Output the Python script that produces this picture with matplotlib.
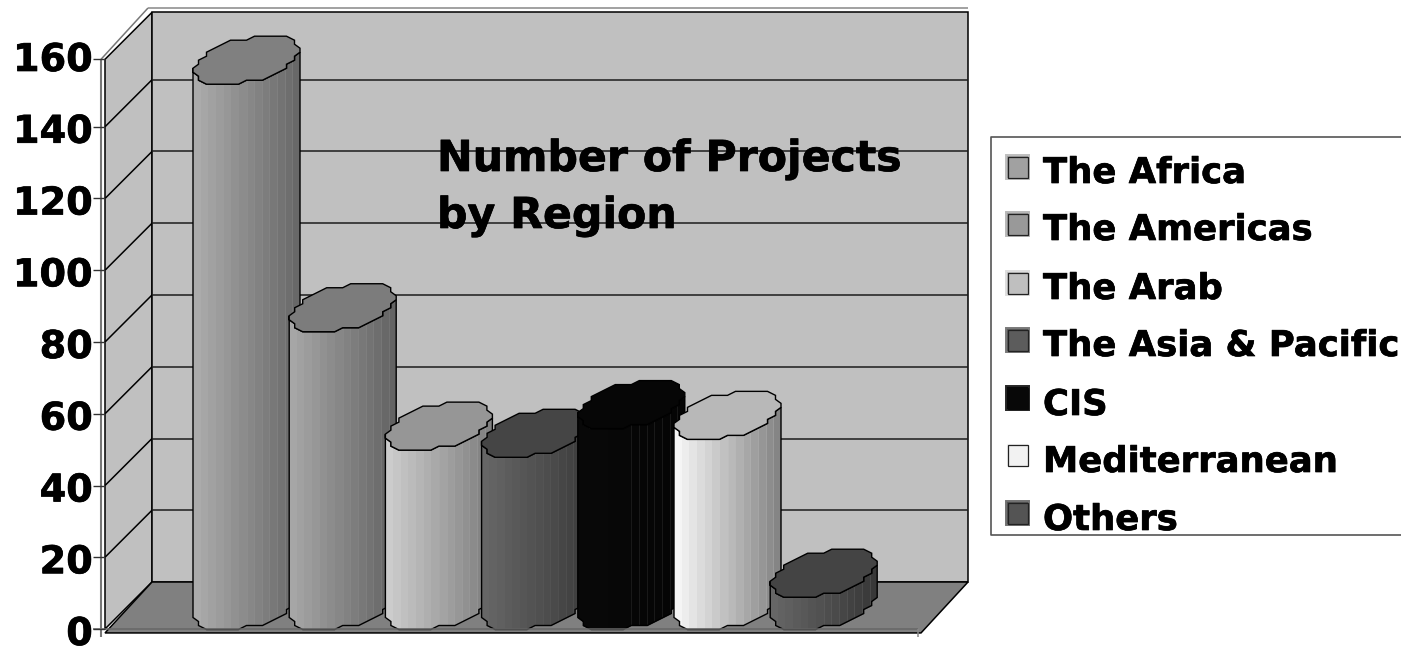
import numpy as np
import matplotlib
matplotlib.use('Agg')
import matplotlib.pyplot as plt
import matplotlib.patheffects as pe
from matplotlib.patches import Polygon, Rectangle

# values
regions = ['The Africa', 'The Americas', 'The Arab', 'The Asia & Pacific',
           'CIS', 'Mediterranean', 'Others']
projects = [152, 83, 50, 48, 56, 53, 9]
y_ticks = [0, 20, 40, 60, 80, 100, 120, 140, 160]
title_lines = ['Number of Projects', 'by Region']

# grey levels of each cylinder: lid, left side, right side, seam lines
lid_grey = [0.50, 0.485, 0.59, 0.27, 0.025, 0.72, 0.265]
left_grey = [0.67, 0.65, 0.80, 0.40, 0.035, 0.96, 0.40]
right_grey = [0.41, 0.39, 0.50, 0.24, 0.02, 0.52, 0.22]
seam_grey = [0.62, 0.60, 0.70, 0.40, 0.28, 0.80, 0.45]
swatch_grey = [0.63, 0.60, 0.75, 0.36, 0.03, 0.95, 0.33]

W, H = 1401, 648
fig = plt.figure(figsize=(W / 100, H / 100), dpi=100)
plt.rcParams['font.family'] = 'DejaVu Sans'
heavy = [pe.withStroke(linewidth=0.5, foreground='black')]

# one slot is 96.2 px wide, one project is 3.5875 px high
XU, YU = 96.2, 3.5875
X0, Y0 = 223, 629
ax = fig.add_axes([0, 0, 1, 1])
ax.set_xlim(-X0 / XU, (W - X0) / XU)
ax.set_ylim((Y0 - H) / YU, Y0 / YU)
ax.axis('off')

# front to back of the box moves the same 47 px right and up
DX, DY = 47 / XU, 47 / YU
LEFT, RIGHT = (105 - X0) / XU, (921 - X0) / XU
TOP = 158.8


def depth(x, v, d):
    return x + d * DX, v + d * DY


def line(p, q, color='black', lw=1.1, z=3):
    ax.plot([p[0], q[0]], [p[1], q[1]], color=color, lw=lw, zorder=z,
            solid_capstyle='butt')


# walls and floor
ax.add_patch(Polygon([depth(LEFT, 0, 0), depth(LEFT, 0, 1), depth(LEFT, TOP, 1), depth(LEFT, TOP, 0)],
                     fc='#c0c0c0', ec='black', lw=1.1, zorder=1))
ax.add_patch(Polygon([depth(LEFT, 0, 1), depth(RIGHT, 0, 1), depth(RIGHT, TOP, 1), depth(LEFT, TOP, 1)],
                     fc='#c0c0c0', ec='black', lw=1.1, zorder=1))
ax.add_patch(Polygon([(LEFT, -1.1), (RIGHT, -1.1), depth(RIGHT, 0, 1), depth(LEFT, 0, 1)],
                     fc='#808080', ec='black', lw=1.1, zorder=2))

for v in y_ticks[1:-1]:
    line(depth(LEFT, v, 0), depth(LEFT, v, 1))
    line(depth(LEFT, v, 1), depth(RIGHT, v, 1), color='#1c1c1c')

# outer line at the top and the value axis
line(depth(LEFT - 4 / XU, TOP, 0), depth(LEFT - 4 / XU, 160, 1), color='#777777')
line(depth(LEFT - 4 / XU, 160, 1), depth(RIGHT, 160, 1), color='#888888')

# lid outline, stepped like the low resolution original
t = np.linspace(0, 2 * np.pi, 37)[:-1]
lat = 0.5 * np.cos(t)
dep = 0.5 * np.sin(t)
lid_x = np.round((lat + dep * DX) * XU / 8) * 8 / XU
lid_y = np.round(dep * DY * YU / 4) * 4 / YU
lid_x = np.clip(lid_x, -53.5 / XU, 53.5 / XU)
keep = np.r_[True, (np.diff(lid_x) != 0) | (np.diff(lid_y) != 0)]
lid_x, lid_y = lid_x[keep], lid_y[keep]
i_right = np.argmax(lid_x)
i_left = np.argmin(lid_x)
# front arc from the left extreme round to the right one
n = len(lid_x)
front = [(i_left + k) % n for k in range((i_right - i_left) % n + 1)]

for i, val in enumerate(projects):
    z = 5 + i
    cx = i + DX / 2
    cv = DY / 2
    fx = cx + lid_x[front]
    top_y = val + cv + lid_y[front]
    base_y = cv + lid_y[front]
    body = Polygon(np.c_[np.r_[fx, fx[::-1]], np.r_[top_y, base_y[::-1]]],
                   closed=True, transform=ax.transData, fc='none', ec='black', lw=1.0, zorder=z + 0.2)
    ax.add_patch(body)
    # side shading as vertical bands
    edges = np.linspace(fx[0], fx[-1], 15)
    shade = np.linspace(left_grey[i], right_grey[i], 14)[None, :]
    mesh = ax.pcolormesh(edges, [-3, val + 20], shade, cmap='gray', vmin=0, vmax=1,
                         zorder=z, shading='flat')
    mesh.set_clip_path(body)
    seams = ax.vlines(edges[7:-1], -3, val + 20, color=str(seam_grey[i]), lw=0.6, alpha=0.35, zorder=z + 0.1)
    seams.set_clip_path(body)
    ax.add_patch(Polygon(np.c_[cx + lid_x, val + cv + lid_y], closed=True,
                         fc=str(lid_grey[i]), ec='black', lw=1.0, zorder=z + 0.4))

# category axis in grey, in front of the cylinders' feet
line((LEFT - 12 / XU, 0), (RIGHT - 3 / XU, 0), color='#666666', lw=1.1, z=14)
line((RIGHT - 3 / XU, 0), (RIGHT - 3 / XU, -2.3), color='#888888', z=14)
line((LEFT - 4 / XU, TOP), (LEFT - 4 / XU, -2.3), color='#777777', lw=1.5, z=14)
for v in y_ticks:
    yy = min(v, TOP)
    line((LEFT - 12 / XU, yy), (LEFT, yy), color='#333333', lw=1.0, z=14)
    ax.text(LEFT - 12 / XU, v - 16 / YU, str(v), ha='right', va='baseline', fontsize=27.5,
            fontweight='bold', color='black', zorder=15, path_effects=heavy)

# title and legend are placed in pixels on a second axes
ov = fig.add_axes([0, 0, 1, 1])
ov.set_xlim(0, W)
ov.set_ylim(H, 0)
ov.axis('off')
ov.patch.set_alpha(0)

for line_txt, yy in zip(title_lines, [171, 228]):
    ov.text(437, yy, line_txt, ha='left', va='baseline', fontsize=30.7, fontweight='bold',
            color='black', path_effects=heavy)

ov.plot([1401, 991, 991, 1401], [137, 137, 535, 535], color='#555555', lw=1.2)
swatch_y = [167, 224, 283, 340, 398, 455, 513]
text_y = [183, 240, 299, 356, 415, 472, 530]
for name, g, yy, ty in zip(regions, swatch_grey, swatch_y, text_y):
    ov.add_patch(Rectangle((1006, yy - 12), 23, 24, fc=str(g), ec=str(min(g + 0.12, 1)), lw=1.4))
    ov.add_patch(Rectangle((1007.5, yy - 10.5), 20, 21, fc='none', ec='#222222' if g > 0.05 else str(g), lw=0.9))
    ov.text(1043, ty, name, ha='left', va='baseline', fontsize=25.5, fontweight='bold',
            color='black', path_effects=heavy)

fig.savefig('out.png', dpi=100)
